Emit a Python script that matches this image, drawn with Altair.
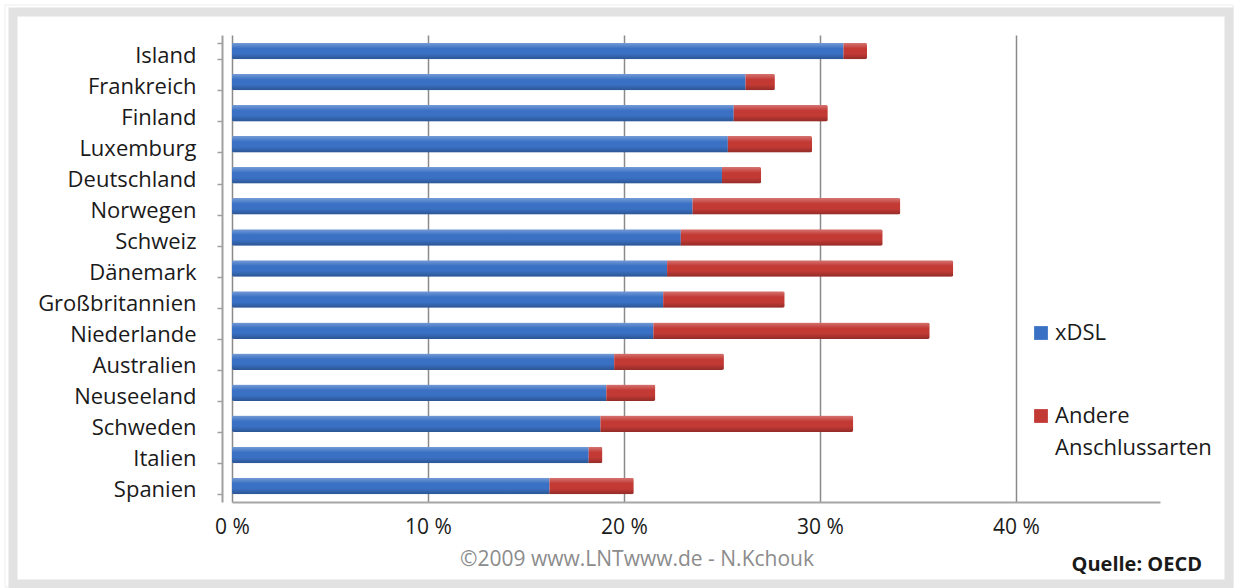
import altair as alt
import pandas as pd

countries = ["Island", "Frankreich", "Finland", "Luxemburg", "Deutschland",
             "Norwegen", "Schweiz", "Dänemark", "Großbritannien", "Niederlande",
             "Australien", "Neuseeland", "Schweden", "Italien", "Spanien"]
xdsl = [31.2, 26.2, 25.6, 25.3, 25.0, 23.5, 22.9, 22.2, 22.0, 21.5,
        19.5, 19.1, 18.8, 18.2, 16.2]
andere = [1.2, 1.5, 4.8, 4.3, 2.0, 10.6, 10.3, 14.6, 6.2, 14.1,
          5.6, 2.5, 12.9, 0.7, 4.3]
series_names = ["xDSL", "Andere Anschlussarten"]
series_colors = ["#3a71c4", "#c33a35"]
legend_labels = ["xDSL", "Andere\nAnschlussarten"]
tick_values = [0, 10, 20, 30, 40]
footer_texts = ["©2009 www.LNTwww.de - N.Kchouk"]
source_texts = ["Quelle: OECD"]

rows = []
for c, a, b in zip(countries, xdsl, andere):
    rows.append({"Land": c, "Serie": series_names[0], "Wert": a, "ord": 0})
    rows.append({"Land": c, "Serie": series_names[1], "Wert": b, "ord": 1})
df = pd.DataFrame(rows)

FONT = "Open Sans"
color_scale = alt.Scale(domain=series_names, range=series_colors)

x_enc = alt.X("Wert:Q", stack="zero",
              scale=alt.Scale(domain=[0, 47.35], nice=False, zero=True),
              axis=alt.Axis(values=tick_values, labelExpr="datum.value + ' %'",
                            title=None, grid=True, gridColor="#8a8a8a", gridWidth=1.5,
                            domainColor="#a6a6a6", domainWidth=2, ticks=False,
                            labelFlush=False,
                            labelFont=FONT, labelFontSize=21, labelColor="#1a1a1a",
                            labelPadding=14))
y_enc = alt.Y("Land:N", sort=countries,
              scale=alt.Scale(paddingInner=0.47, paddingOuter=0.25),
              axis=alt.Axis(title=None, offset=10, domainColor="#a0a0a0", domainWidth=2,
                            tickBand="extent", tickSize=5, tickColor="#a0a0a0", tickWidth=1.5,
                            labelFont=FONT, labelFontSize=22, labelColor="#1a1a1a",
                            labelPadding=21, labelOffset=4))

bars = alt.Chart(df).mark_bar(cornerRadius=2).encode(
    x=x_enc,
    y=y_enc,
    color=alt.Color("Serie:N", scale=color_scale, legend=None),
    order=alt.Order("ord:Q"),
)

shade = alt.Chart(df).mark_bar(
    cornerRadius=2,
    color=alt.Gradient(
        gradient="linear",
        stops=[alt.GradientStop(color="rgba(255,255,255,0.30)", offset=0),
               alt.GradientStop(color="rgba(255,255,255,0.0)", offset=0.35),
               alt.GradientStop(color="rgba(0,0,0,0.0)", offset=0.65),
               alt.GradientStop(color="rgba(0,0,0,0.25)", offset=1)],
        x1=0, x2=0, y1=0, y2=1),
).encode(
    x=alt.X("Wert:Q", stack="zero"),
    y=alt.Y("Land:N", sort=countries),
    detail="Serie:N",
    order=alt.Order("ord:Q"),
)

# legend (drawn by hand so that the two-line label gets its own line spacing)
legend_y = [298, 381]
legend_layers = []
for name, lab, ly in zip(series_names, legend_labels, legend_y):
    ldf = pd.DataFrame({"Serie": [name], "label": [lab]})
    legend_layers.append(
        alt.Chart(ldf).mark_square(size=190, opacity=1).encode(
            x=alt.value(809), y=alt.value(ly),
            color=alt.Color("Serie:N", scale=color_scale, legend=None)))
    legend_layers.append(
        alt.Chart(ldf).mark_text(font=FONT, fontSize=22, color="#1a1a1a", align="left",
                                 baseline="top", lineBreak="\n", lineHeight=32).encode(
            text="label:N", x=alt.value(823), y=alt.value(ly - 10)))

frame_df = pd.DataFrame({"k": [1]})
frame = alt.Chart(frame_df).mark_rect(fillOpacity=0, stroke="#e2e2e2", strokeWidth=9).encode(
    x=alt.value(-219), x2=alt.value(997), y=alt.value(-23), y2=alt.value(549))
frame_outer = alt.Chart(frame_df).mark_rect(fillOpacity=0, stroke="#ededed", strokeWidth=1).encode(
    x=alt.value(-227), x2=alt.value(1001), y=alt.value(-30), y2=alt.value(552))

footer = alt.Chart(pd.DataFrame({"t": footer_texts})).mark_text(
    font=FONT, fontSize=21, color="#8c8c8c", align="center", baseline="middle"
).encode(text="t:N", x=alt.value(405), y=alt.value(525))

source = alt.Chart(pd.DataFrame({"t": source_texts})).mark_text(
    font=FONT, fontSize=20, fontWeight="bold", color="#1a1a1a", align="right", baseline="middle"
).encode(text="t:N", x=alt.value(970), y=alt.value(530))

chart = alt.layer(frame_outer, frame, bars, shade, *legend_layers, footer, source).properties(
    width=928, height=467,
    autosize=alt.AutoSizeParams(type="none"),
    padding={"left": 232, "top": 35, "right": 74, "bottom": 86},
    background="white",
).configure_view(stroke=None)

chart.save("out.html", embed_options={"renderer": "svg", "actions": False})
